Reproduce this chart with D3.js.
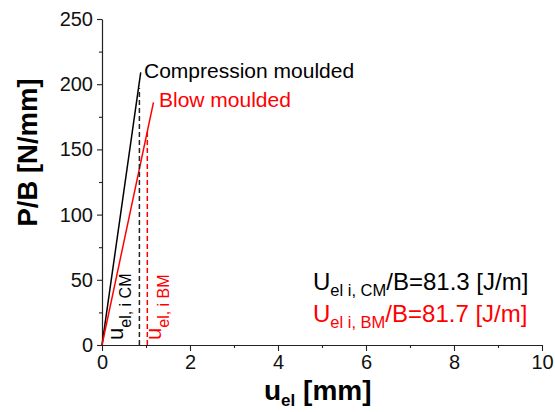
<!DOCTYPE html>
<html><head><meta charset="utf-8">
<script src="https://cdn.jsdelivr.net/npm/d3@7"></script>
<style>body{margin:0;background:#fff}svg{font-family:"Liberation Sans",Arial,sans-serif}</style>
</head><body><svg id="c" width="555" height="412"></svg>
<script>
const xTicks=[0,2,4,6,8,10];
const xMinor=[1,3,5,7,9];
const yTicks=[0,50,100,150,200,250];
const yMinor=[25,75,125,175,225];
const cmLine=[[0,0],[0.88,209]];
const bmLine=[[0,0],[1.17,186]];
const cmDash=[[0.85,0],[0.85,197]];
const bmDash=[[1.03,0],[1.03,165]];
const svg=d3.select("#c");
const x=d3.scaleLinear().domain([0,10]).range([102,542]);
const y=d3.scaleLinear().domain([0,250]).range([345,19]);
const ax=svg.append("g").attr("transform","translate(0,345)")
 .call(d3.axisBottom(x).tickValues(xTicks).tickSize(6).tickSizeOuter(0).tickPadding(4));
const axm=svg.append("g").attr("transform","translate(0,345)")
 .call(d3.axisBottom(x).tickValues(xMinor).tickSize(3).tickFormat(""));
axm.select(".domain").remove();
const ay=svg.append("g").attr("transform","translate(102,0)")
 .call(d3.axisLeft(y).tickValues(yTicks).tickSize(5).tickSizeOuter(0).tickPadding(4));
const aym=svg.append("g").attr("transform","translate(102,0)")
 .call(d3.axisLeft(y).tickValues(yMinor).tickSize(3).tickFormat(""));
aym.select(".domain").remove();
svg.selectAll(".domain").attr("stroke","#222").attr("stroke-width",1.2);
svg.selectAll(".tick line").attr("stroke","#222").attr("stroke-width",1.1);
svg.selectAll(".tick text").attr("font-size",20).attr("fill","#111").attr("font-family","Liberation Sans, Arial, sans-serif");
const line=d3.line().x(d=>x(d[0])).y(d=>y(d[1]));
svg.append("path").attr("d",line(cmLine)).attr("stroke","#000").attr("stroke-width",1.5).attr("fill","none");
svg.append("path").attr("d",line(bmLine)).attr("stroke","#f00").attr("stroke-width",1.5).attr("fill","none");
svg.append("path").attr("d",line(cmDash)).attr("stroke","#222").attr("stroke-width",1.5).attr("stroke-dasharray","5,3").attr("fill","none");
svg.append("path").attr("d",line(bmDash)).attr("stroke","#f00").attr("stroke-width",1.5).attr("stroke-dasharray","5,3").attr("fill","none");
svg.append("text").attr("x",144).attr("y",78).attr("font-size",21).attr("fill","#000").text("Compression moulded");
svg.append("text").attr("x",159).attr("y",107).attr("font-size",21).attr("fill","#f00").text("Blow moulded");
function vlab(cx,color,sub){
 const t=svg.append("text").attr("transform",`translate(${cx},340) rotate(-90)`).attr("font-size",22).attr("fill",color);
 t.append("tspan").text("u");
 t.append("tspan").attr("font-size",16).attr("dy",8).text(sub);
}
vlab(123,"#000","el, i CM");
vlab(161,"#f00","el, i BM");
function ann(yb,color,sub,rest){
 const t=svg.append("text").attr("x",313).attr("y",yb).attr("font-size",24).attr("fill",color);
 t.append("tspan").text("U");
 t.append("tspan").attr("font-size",16.5).attr("dy",6).text(sub);
 t.append("tspan").attr("dy",-6).text(rest);
}
ann(290,"#000","el i, CM","/B=81.3 [J/m]");
ann(322,"#f00","el i, BM","/B=81.7 [J/m]");
svg.append("text").attr("transform","translate(37,152.5) rotate(-90)").attr("text-anchor","middle").attr("font-size",27.5).attr("font-weight","bold").text("P/B [N/mm]");
const xt=svg.append("text").attr("x",264).attr("y",400).attr("font-size",28).attr("font-weight","bold");
xt.append("tspan").text("u");
xt.append("tspan").attr("font-size",17).attr("dy",6).text("el");
xt.append("tspan").attr("dy",-6).text(" [mm]");
</script></body></html>
